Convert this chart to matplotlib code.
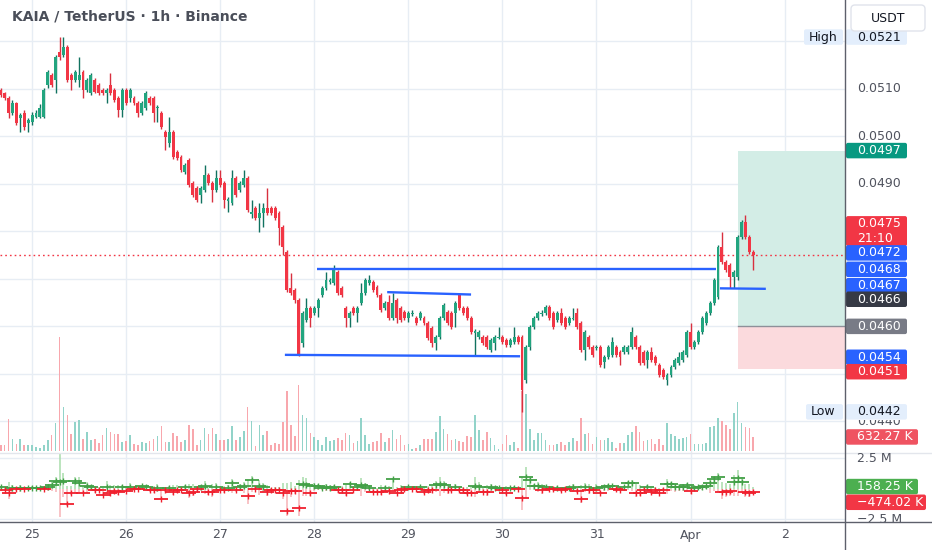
import matplotlib
matplotlib.use('Agg')
import matplotlib.pyplot as plt
from matplotlib.patches import Rectangle, FancyBboxPatch
from matplotlib.transforms import Bbox, TransformedBbox
import matplotlib.transforms as mtr
import numpy as np

plt.rcParams['font.family'] = ['DejaVu Sans']

TITLE = "KAIA / TetherUS \u00b7 1h \u00b7 Binance"
# candle k = k hours after 24 Mar 16:00
day_ticks = [8, 32, 56, 80, 104, 128, 152, 176, 200]
day_labels = ['25', '26', '27', '28', '29', '30', '31', 'Apr', '2']

opens = [0.05098,0.05091,0.05081,0.05049,0.05070,0.05039,0.05049,0.05028,0.05030,0.05041,
0.05041,0.05041,0.05108,0.05129,0.05119,0.05178,0.05171,0.05188,0.05129,0.05119,
0.05119,0.05135,0.05098,0.05091,0.05119,0.05108,0.05098,0.05091,0.05108,0.05098,
0.05081,0.05055,0.05098,0.05081,0.05081,0.05070,0.05049,0.05060,0.05081,0.05081,
0.05060,0.05049,0.05009,0.04986,0.05009,0.04967,0.04956,0.04925,0.04950,0.04902,
0.04891,0.04877,0.04887,0.04919,0.04902,0.04887,0.04912,0.04902,0.04864,0.04860,
0.04912,0.04887,0.04898,0.04912,0.04837,0.04849,0.04828,0.04839,0.04849,0.04849,
0.04849,0.04839,0.04809,0.04757,0.04681,0.04677,0.04656,0.04565,0.04613,0.04639,
0.04628,0.04639,0.04666,0.04681,0.04693,0.04691,0.04714,0.04681,0.04639,0.04618,
0.04639,0.04628,0.04649,0.04670,0.04691,0.04693,0.04683,0.04666,0.04639,0.04651,
0.04618,0.04656,0.04639,0.04630,0.04618,0.04626,0.04618,0.04618,0.04618,0.04607,
0.04597,0.04565,0.04578,0.04618,0.04630,0.04628,0.04628,0.04666,0.04639,0.04639,
0.04618,0.04586,0.04578,0.04578,0.04578,0.04550,0.04565,0.04576,0.04578,0.04571,
0.04561,0.04567,0.04578,0.04578,0.04487,0.04557,0.04599,0.04618,0.04626,0.04628,
0.04641,0.04628,0.04613,0.04628,0.04618,0.04607,0.04616,0.04628,0.04607,0.04550,
0.04578,0.04557,0.04555,0.04557,0.04525,0.04536,0.04540,0.04557,0.04546,0.04546,
0.04546,0.04557,0.04578,0.04557,0.04546,0.04529,0.04546,0.04536,0.04519,0.04508,
0.04487,0.04498,0.04514,0.04523,0.04529,0.04540,0.04588,0.04557,0.04567,0.04588,
0.04607,0.04628,0.04649,0.04662,0.04767,0.04735,0.04729,0.04704,0.04704,0.04788,
0.04820,0.04788,0.04757]

closes = [0.05087,0.05081,0.05049,0.05070,0.05028,0.05045,0.05020,0.05034,0.05045,0.05049,
0.05060,0.05098,0.05135,0.05108,0.05167,0.05167,0.05188,0.05119,0.05119,0.05135,
0.05129,0.05098,0.05119,0.05129,0.05093,0.05091,0.05091,0.05098,0.05091,0.05077,
0.05055,0.05098,0.05070,0.05098,0.05070,0.05049,0.05070,0.05091,0.05070,0.05049,
0.05062,0.05020,0.04999,0.05009,0.04956,0.04954,0.04929,0.04940,0.04898,0.04877,
0.04866,0.04891,0.04919,0.04902,0.04887,0.04912,0.04898,0.04866,0.04868,0.04912,
0.04877,0.04902,0.04912,0.04845,0.04841,0.04828,0.04839,0.04849,0.04839,0.04839,
0.04828,0.04807,0.04767,0.04677,0.04670,0.04656,0.04540,0.04628,0.04639,0.04618,
0.04639,0.04656,0.04681,0.04698,0.04698,0.04719,0.04670,0.04666,0.04618,0.04628,
0.04628,0.04639,0.04670,0.04698,0.04698,0.04677,0.04666,0.04634,0.04649,0.04618,
0.04649,0.04618,0.04613,0.04618,0.04628,0.04628,0.04607,0.04628,0.04607,0.04576,
0.04565,0.04578,0.04618,0.04645,0.04607,0.04599,0.04649,0.04639,0.04628,0.04618,
0.04588,0.04590,0.04588,0.04565,0.04557,0.04571,0.04578,0.04578,0.04567,0.04561,
0.04571,0.04578,0.04567,0.04466,0.04557,0.04599,0.04618,0.04628,0.04628,0.04641,
0.04618,0.04599,0.04628,0.04607,0.04599,0.04618,0.04618,0.04599,0.04550,0.04588,
0.04557,0.04540,0.04557,0.04519,0.04536,0.04557,0.04567,0.04540,0.04536,0.04557,
0.04557,0.04588,0.04557,0.04523,0.04523,0.04546,0.04529,0.04523,0.04498,0.04493,
0.04498,0.04514,0.04529,0.04536,0.04546,0.04588,0.04557,0.04567,0.04588,0.04618,
0.04628,0.04649,0.04698,0.04767,0.04735,0.04719,0.04704,0.04714,0.04788,0.04820,
0.04788,0.04757,0.04750]

highs = [0.05102,0.05093,0.05085,0.05077,0.05072,0.05049,0.05055,0.05039,0.05051,0.05055,
0.05068,0.05102,0.05140,0.05133,0.05171,0.05209,0.05209,0.05192,0.05133,0.05140,
0.05167,0.05140,0.05123,0.05133,0.05123,0.05112,0.05102,0.05102,0.05133,0.05102,
0.05085,0.05102,0.05102,0.05102,0.05085,0.05074,0.05074,0.05095,0.05085,0.05085,
0.05066,0.05053,0.05013,0.05041,0.05013,0.04971,0.04961,0.04944,0.04954,0.04906,
0.04895,0.04895,0.04940,0.04923,0.04906,0.04929,0.04929,0.04906,0.04872,0.04929,
0.04916,0.04906,0.04929,0.04916,0.04866,0.04853,0.04860,0.04860,0.04891,0.04853,
0.04853,0.04843,0.04813,0.04761,0.04712,0.04681,0.04660,0.04632,0.04660,0.04643,
0.04643,0.04660,0.04685,0.04714,0.04702,0.04729,0.04719,0.04685,0.04643,0.04632,
0.04643,0.04643,0.04691,0.04702,0.04708,0.04698,0.04687,0.04670,0.04653,0.04666,
0.04670,0.04660,0.04643,0.04634,0.04632,0.04634,0.04622,0.04632,0.04622,0.04611,
0.04601,0.04582,0.04622,0.04649,0.04634,0.04632,0.04653,0.04670,0.04643,0.04643,
0.04622,0.04595,0.04592,0.04582,0.04582,0.04576,0.04582,0.04599,0.04582,0.04576,
0.04576,0.04599,0.04582,0.04582,0.04561,0.04603,0.04622,0.04632,0.04634,0.04645,
0.04645,0.04632,0.04632,0.04639,0.04622,0.04622,0.04639,0.04639,0.04611,0.04592,
0.04582,0.04561,0.04561,0.04561,0.04540,0.04561,0.04578,0.04561,0.04550,0.04561,
0.04561,0.04599,0.04582,0.04561,0.04550,0.04550,0.04557,0.04540,0.04523,0.04512,
0.04502,0.04519,0.04533,0.04546,0.04550,0.04592,0.04607,0.04571,0.04592,0.04622,
0.04632,0.04653,0.04702,0.04771,0.04799,0.04740,0.04733,0.04719,0.04792,0.04824,
0.04834,0.04792,0.04761]

lows = [0.05083,0.05077,0.05039,0.05045,0.05024,0.05009,0.05013,0.05009,0.05024,0.05039,
0.05039,0.05039,0.05102,0.05104,0.05091,0.05161,0.05167,0.05114,0.05098,0.05114,
0.05104,0.05081,0.05093,0.05087,0.05091,0.05087,0.05087,0.05070,0.05087,0.05072,
0.05041,0.05041,0.05066,0.05072,0.05066,0.05041,0.05045,0.05055,0.05066,0.05030,
0.05030,0.05015,0.04971,0.04978,0.04952,0.04950,0.04925,0.04921,0.04893,0.04872,
0.04862,0.04860,0.04883,0.04898,0.04862,0.04883,0.04893,0.04849,0.04841,0.04855,
0.04872,0.04883,0.04893,0.04841,0.04828,0.04824,0.04799,0.04809,0.04834,0.04834,
0.04824,0.04771,0.04750,0.04672,0.04666,0.04649,0.04538,0.04557,0.04609,0.04599,
0.04624,0.04620,0.04662,0.04677,0.04689,0.04687,0.04666,0.04662,0.04599,0.04599,
0.04624,0.04609,0.04645,0.04666,0.04687,0.04672,0.04662,0.04630,0.04634,0.04613,
0.04613,0.04607,0.04609,0.04613,0.04609,0.04622,0.04603,0.04613,0.04603,0.04571,
0.04557,0.04550,0.04573,0.04613,0.04603,0.04595,0.04599,0.04634,0.04624,0.04613,
0.04584,0.04540,0.04573,0.04561,0.04552,0.04546,0.04550,0.04573,0.04563,0.04557,
0.04557,0.04563,0.04563,0.04420,0.04481,0.04550,0.04595,0.04613,0.04622,0.04624,
0.04613,0.04595,0.04609,0.04603,0.04595,0.04603,0.04613,0.04595,0.04546,0.04529,
0.04552,0.04536,0.04550,0.04514,0.04512,0.04531,0.04536,0.04536,0.04519,0.04542,
0.04542,0.04552,0.04552,0.04519,0.04519,0.04512,0.04525,0.04519,0.04493,0.04489,
0.04477,0.04493,0.04510,0.04519,0.04525,0.04536,0.04552,0.04552,0.04563,0.04584,
0.04603,0.04624,0.04645,0.04658,0.04731,0.04714,0.04681,0.04681,0.04698,0.04784,
0.04784,0.04752,0.04719]

# volume in thousands
volume_k = [250,255,1455,555,330,555,255,255,285,180,
150,255,480,705,1260,5115,1980,1635,780,1305,
1380,555,855,480,555,360,705,1050,855,780,
780,405,435,705,330,255,390,375,450,555,
660,1110,405,390,810,660,390,510,1185,1005,
255,510,1050,750,1050,780,480,510,555,1110,
510,630,885,1980,1335,225,1185,705,885,255,
360,330,1305,2700,1185,660,2955,1605,1500,825,
630,480,255,630,450,480,600,480,825,705,
360,435,1500,705,300,405,435,825,390,600,
960,525,705,255,300,105,150,255,555,555,
555,855,1560,1005,780,510,555,450,405,660,
630,1605,930,480,855,600,255,105,330,705,
255,405,150,2700,2580,1005,480,825,825,510,
255,255,330,405,285,405,600,450,1500,750,
825,330,630,480,510,600,405,150,375,375,
705,855,1110,855,450,510,555,300,555,255,
1275,750,660,555,600,630,780,300,300,300,
360,1080,1110,1500,1350,1155,975,1710,2205,1260,
1080,1050,632.27]

# volume delta (up volume - down volume), thousands
delta_k = [150,-150,-330,60,-40,60,-40,30,55,50,
40,-55,120,300,630,500,630,-1230,-330,600,
450,-355,190,150,-150,-100,-545,150,-330,-200,
-250,100,-220,150,-80,-60,190,100,-100,-150,
80,-820,-100,80,-250,-150,-100,100,-400,-270,
-80,100,200,-300,-300,150,-120,-150,80,410,
-120,150,200,-600,680,-40,200,140,-270,-100,
-150,-100,-400,-1860,-200,-200,-1560,330,300,-350,
190,190,80,150,60,120,-150,-150,-330,330,
-100,100,300,200,60,-250,-300,-250,60,-200,
740,-330,-150,-60,100,-30,-80,140,-270,-150,
-150,300,330,300,-100,-100,150,-150,-100,-350,
-350,200,150,-270,-300,150,60,30,-100,-330,
50,80,-40,-800,960,680,190,190,-140,100,
-80,-80,60,-100,-80,80,100,-220,-900,150,
-150,-100,50,-330,100,190,190,-60,-100,100,
490,490,-330,-330,-150,120,-270,-100,-400,-120,
330,330,150,150,150,300,-200,60,100,100,
200,410,760,960,-300,-300,-200,500,900,550,
-300,-350,-315.77]

# user drawings: (x0, x1, p0, p1) in candle index / price
trend_lines = [(80.7, 182.5, 0.04721, 0.04721),
               (98.6, 120.0, 0.04672, 0.04667),
               (72.5, 132.5, 0.04540, 0.04537),
               (183.5, 195.2, 0.04680, 0.04679)]
pos_start, pos_entry, pos_target, pos_stop = 188, 0.0460, 0.0497, 0.0451
extra_level = 0.0466
countdown = "21:10"

o = np.array(opens); c = np.array(closes); h = np.array(highs); l = np.array(lows)
v = np.array(volume_k, dtype=float); d = np.array(delta_k, dtype=float)
up = (v + d) / 2
dn = (v - d) / 2
idx = np.arange(len(c))
bull = c >= o

GREEN = '#22a57f'; GREEN_W = '#117260'; RED = '#f23645'; RED_W = '#d8303f'
GRID = '#e7edf4'
W, H = 932, 550
PX = 845; MAIN_BOT = 451; IND_BOT = 522

fig = plt.figure(figsize=(W / 100, H / 100), dpi=100)
fig.patch.set_facecolor('white')
vax = fig.add_axes([0, 1 - MAIN_BOT / H, PX / W, MAIN_BOT / H])
ax = vax.twinx()
iax = fig.add_axes([0, 1 - IND_BOT / H, PX / W, (IND_BOT - MAIN_BOT) / H])
for a in (vax, ax, iax):
    for s in a.spines.values():
        s.set_visible(False)
    a.tick_params(left=False, right=False, bottom=False, top=False,
                  labelleft=False, labelright=False, labelbottom=False)
    a.set_xlim(-0.18, 215.4)
ax.set_ylim(0.043376, 0.05287)
vax.set_ylim(0, 451 * 45)
iax.set_ylim(-2746, 3074)

# grid
for t in day_ticks:
    vax.axvline(t, color=GRID, lw=1, zorder=0)
    iax.axvline(t, color=GRID, lw=1, zorder=0)
btr = mtr.blended_transform_factory(vax.transAxes, ax.transData)
for p in np.arange(0.0440, 0.05205, 0.001):
    vax.plot([0, 1], [p, p], transform=btr, color=GRID, lw=1, zorder=0)
for g in (2500, -2500):
    iax.axhline(g, color=GRID, lw=1, zorder=0)

# volume
vax.bar(idx, v, width=0.42, color=np.where(bull, '#92d3c9', '#f8a7ad'), zorder=1)

# position tool
ax.add_patch(Rectangle((pos_start, pos_entry), 60, pos_target - pos_entry,
                       fc='#d3ede6', ec='none', zorder=1))
ax.add_patch(Rectangle((pos_start, pos_stop), 60, pos_entry - pos_stop,
                       fc='#fbdadd', ec='none', zorder=1))
ax.plot([pos_start, 260], [pos_entry, pos_entry], color='#8d9099', lw=1, zorder=1.5)

# last price line
ax.axhline(c[-1], color=RED, lw=1, ls=(0, (1.2, 2.2)), zorder=2)

# candles
ax.vlines(idx, l, h, colors=np.where(bull, GREEN_W, RED_W), lw=1, zorder=3)
body = np.maximum(np.abs(c - o), 0.00002)
ax.bar(idx, body, bottom=np.minimum(o, c), width=0.74,
       color=np.where(bull, GREEN, RED), zorder=4)

for x0, x1, p0, p1 in trend_lines:
    ax.plot([x0, x1], [p0, p1], color='#2962ff', lw=1.7, solid_capstyle='butt', zorder=5)

# up/down volume indicator
iax.vlines(idx, 0, up, colors='#a8dcab', lw=1.1, zorder=1)
iax.vlines(idx, -dn, 0, colors='#f7b3b6', lw=1.1, zorder=1)
pos = d >= 0
for mask, col in ((pos, '#43a047'), (~pos, '#f0202e')):
    iax.plot(idx[mask], d[mask], ls='none', marker='_', ms=9.4, mew=1.3, color=col, zorder=3)
    iax.plot(idx[mask], d[mask], ls='none', marker='|', ms=4.0, mew=1.0, color=col, zorder=3)

# overlay in pixel space
ov = fig.add_axes([0, 0, 1, 1])
ov.set_xlim(0, W); ov.set_ylim(H, 0); ov.axis('off'); ov.patch.set_visible(False)
ov.set_zorder(20)

def ypx(a, val):
    return H - a.transData.transform((0, val))[1]

def xpx(val):
    return ax.transData.transform((val, 0))[0]

TXT = '#50535e'
ov.plot([PX, PX], [0, H], color='#5d606b', lw=1, zorder=30)
ov.plot([0, W], [IND_BOT, IND_BOT], color='#5d606b', lw=1, zorder=30)
ov.plot([0, W], [MAIN_BOT + 1.5, MAIN_BOT + 1.5], color='#e3e6ec', lw=1, zorder=1)

ov.text(12, 16, TITLE, fontsize=10, color='#4a4e59', fontweight='bold', va='center', ha='left')

for t, lab in zip(day_ticks, day_labels):
    ov.text(xpx(t), 535, lab, fontsize=9, color=TXT, ha='center', va='center')

for p in (0.0510, 0.0500, 0.0490):
    ov.text(857, ypx(ax, p), f'{p:.4f}', fontsize=9, color=TXT, ha='left', va='center', zorder=5)
t440 = ov.text(857, ypx(ax, 0.0440), f'{0.0440:.4f}', fontsize=9, color=TXT,
               ha='left', va='center', zorder=5)
t440.set_clip_box(TransformedBbox(Bbox([[PX, 420], [W, 440]]), ov.transData))
t440.set_clip_on(True)
ov.text(857, ypx(iax, 2500), '2.5 M', fontsize=9, color=TXT,
        ha='left', va='center', zorder=5)
t_neg = ov.text(857, ypx(iax, -2500) + 1, '\u22122.5 M', fontsize=9, color=TXT,
                ha='left', va='center', zorder=5)
t_neg.set_clip_box(TransformedBbox(Bbox([[PX, MAIN_BOT], [W, IND_BOT]]), ov.transData))
t_neg.set_clip_on(True)

def box(yc, text, bg, fg, x1=907, hh=15.5, x0=PX + 1, tx=857):
    ov.add_patch(FancyBboxPatch((x0, yc - hh / 2), x1 - x0, hh,
                                boxstyle='round,pad=0,rounding_size=2',
                                fc=bg, ec='none', zorder=10))
    ov.text(tx, yc, text, fontsize=9, color=fg, ha='left', va='center', zorder=11,
            linespacing=1.15)

LB = '#e3eefc'; DARK = '#131722'; BLUE = '#2962ff'
box(ypx(ax, h.max()), f'{h.max():.4f}', LB, DARK)
box(ypx(ax, h.max()), 'High', LB, DARK, x0=804, x1=843, tx=809)
box(ypx(ax, pos_target), f'{pos_target:.4f}', '#089981', 'white')
box(ypx(ax, c[-1]) - 24, f'{c[-1]:.4f}\n{countdown}', RED, 'white', hh=30)
box(ypx(ax, trend_lines[0][3]) - 16, f'{trend_lines[0][3]:.4f}', BLUE, 'white')
box(ypx(ax, trend_lines[3][3]) - 19.5, f'{trend_lines[3][3]:.4f}', BLUE, 'white')
box(ypx(ax, trend_lines[1][3]) - 8.8, f'{trend_lines[1][3]:.4f}', BLUE, 'white')
box(ypx(ax, extra_level) + 1.4, f'{extra_level:.4f}', '#363a45', 'white')
box(ypx(ax, pos_entry), f'{pos_entry:.4f}', '#787b86', 'white')
box(ypx(ax, trend_lines[2][3]) + 1, f'{trend_lines[2][3]:.4f}', BLUE, 'white')
box(ypx(ax, pos_stop) + 2.6, f'{pos_stop:.4f}', RED, 'white')
box(ypx(ax, l.min()), f'{l.min():.4f}', LB, DARK)
box(ypx(ax, l.min()), 'Low', LB, DARK, x0=806, x1=843, tx=811)
box(ypx(vax, v[-1]), f'{v[-1]:.2f} K', '#ef5361', 'white', x1=918)
box(ypx(iax, up[-1]), f'{up[-1]:.2f} K', '#4caf50', 'white', x1=918)
box(ypx(iax, -dn[-1]) + 8, f'\u2212{dn[-1]:.2f} K', RED, 'white', x1=926)

ov.add_patch(FancyBboxPatch((851, 5), 74, 26, boxstyle='round,pad=0,rounding_size=4',
                            fc='white', ec='#e0e3eb', lw=1, zorder=10))
ov.text(888, 18, 'USDT', fontsize=9, color=DARK, ha='center', va='center', zorder=11)

fig.savefig('out.png', dpi=100, facecolor='white')
